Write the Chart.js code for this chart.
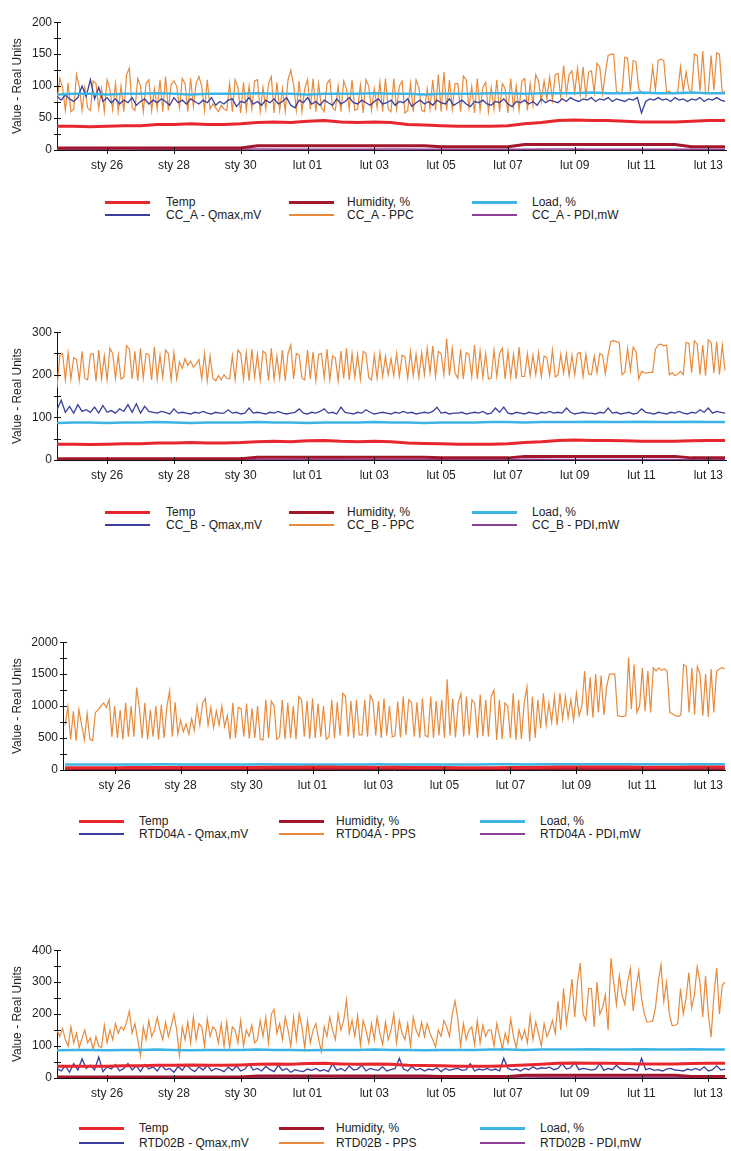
<!DOCTYPE html>
<html>
<head>
<meta charset="utf-8">
<script src="https://cdn.jsdelivr.net/npm/chart.js@4.4.1/dist/chart.umd.min.js"></script>
<style>
  body { margin: 0; background: #fff; width: 731px; height: 1151px; overflow: hidden; position: relative; }
  canvas { position: absolute; left: 0; }
  .leg-line { position: absolute; }
  .leg-text { position: absolute; font: 12px 'Liberation Sans', Arial, sans-serif; color: #222; line-height: 14px; white-space: nowrap; }
</style>
</head>
<body>
<script>
// --- Data (x = days after 24 Jan 00:00) ---
const X0 = 0.5;
const tickDays = [2, 4, 6, 8, 10, 12, 14, 16, 18, 20];
const tickLabels = ['sty 26', 'sty 28', 'sty 30', 'lut 01', 'lut 03', 'lut 05', 'lut 07', 'lut 09', 'lut 11', 'lut 13'];

// shared, 12h step
const tempVals = [37, 37, 36.5, 37, 38, 38, 40, 40, 41, 40, 40, 41, 43, 44, 43, 45, 46, 44, 43, 44, 43,
  40, 39, 38, 37, 37, 37, 38, 41, 43, 46, 47, 46, 46, 45, 44, 44, 44, 45, 46, 46];
const humidityVals = [3, 3, 3, 3, 3, 3, 3, 3, 3, 3, 3, 3,
  6.5, 6.5, 6.5, 6.5, 6.5, 6.5, 6.5, 6.5, 6.5, 6.5, 6.5,
  5, 5, 5, 5, 5,
  8.5, 8.5, 8.5, 8.5, 8.5, 8.5, 8.5, 8.5, 8.5, 8.5,
  5, 5, 5];
const loadVals = [87, 88, 88, 87, 88, 88, 89, 88, 87, 88, 88, 88, 89, 88, 88, 87, 88, 88, 88, 89, 88,
  88, 87, 88, 88, 88, 89, 89, 88, 89, 89, 89, 90, 89, 89, 90, 89, 89, 90, 89, 89];

// panel 1 (CC_A): Qmax 3h step, PPC 2h step
const qmaxA = [
  84, 78, 86, 80, 76, 82, 100, 84,
  110, 80, 98, 76, 82, 74, 80, 72,
  78, 74, 82, 70, 76, 80, 72, 78,
  74, 80, 76, 70, 82, 74, 78, 72,
  80, 76, 72, 78, 74, 82, 70, 76,
  72, 78, 80, 68, 76, 74, 82, 72,
  76, 70, 78, 74, 80, 72, 76, 82,
  70, 66, 78, 74, 82, 72, 76, 70,
  78, 74, 70, 80, 72, 76, 82, 74,
  72, 78, 74, 70, 76, 80, 72, 74,
  78, 70, 76, 74, 80, 68, 74, 78,
  72, 76, 70, 78, 74, 72, 80, 70,
  74, 78, 72, 68, 76, 74, 78, 72,
  70, 76, 74, 80, 72, 68, 76, 74,
  78, 72, 76, 70, 80, 74, 78, 76,
  74, 80, 76, 82, 78, 76, 80, 78,
  82, 76, 80, 78, 82, 76, 80, 78,
  76, 80, 78, 82, 58, 76, 80, 78,
  82, 78, 80, 76, 82, 78, 80, 76,
  80, 78, 82, 76, 80, 78, 82, 78,
  76];
const ppcA = [
  75, 112, 98, 62, 105, 60, 64, 118, 100, 62, 98, 66,
  62, 108, 104, 65, 96, 60, 110, 95, 63, 104, 60, 100,
  60, 118, 128, 66, 62, 112, 100, 60, 104, 110, 62, 96,
  64, 110, 60, 115, 62, 102, 108, 100, 66, 112, 104, 60,
  112, 68, 105, 115, 100, 62, 110, 64, 72, 66, 60, 70,
  64, 62, 104, 60, 110, 98, 58, 106, 62, 100, 64, 108,
  110, 60, 98, 64, 104, 115, 58, 106, 62, 96, 60, 110,
  125, 102, 62, 108, 60, 96, 110, 64, 112, 60, 104, 66,
  60, 104, 110, 66, 62, 100, 60, 108, 96, 64, 110, 62,
  64, 102, 58, 110, 100, 62, 96, 66, 106, 60, 112, 64,
  60, 112, 64, 100, 108, 58, 62, 104, 60, 110, 98, 62,
  60, 96, 64, 110, 62, 118, 60, 122, 62, 110, 64, 104,
  104, 60, 116, 110, 66, 100, 58, 112, 62, 98, 106, 60,
  98, 64, 110, 60, 104, 96, 58, 112, 66, 100, 62, 108,
  112, 62, 104, 70, 118, 108, 76, 108, 80, 114, 78, 118,
  120, 82, 132, 88, 118, 124, 90, 128, 86, 130, 84, 122,
  124, 90, 136, 130, 88, 120, 148, 150, 150, 92, 90, 90,
  145, 144, 92, 140, 138, 96, 90, 88, 89, 90, 130, 94,
  140, 142, 140, 90, 92, 88, 90, 91, 130, 92, 122, 95,
  90, 150, 148, 92, 155, 88, 90, 148, 94, 152, 150, 90,
  92];
const pdiA = [1, 1, 1.5, 1, 1, 1, 1.5, 1, 1, 1, 1.5, 1, 1, 1, 1, 1.5, 1, 1, 1, 1, 1];

// panel 2 (CC_B)
const qmaxB = [
  118, 140, 112, 126, 110, 130, 114, 118,
  112, 124, 110, 128, 112, 116, 110, 120,
  114, 130, 112, 132, 110, 126, 114, 112,
  110, 114, 112, 108, 120, 110, 112, 110,
  108, 112, 110, 114, 110, 108, 112, 110,
  110, 118, 110, 112, 108, 110, 122, 110,
  112, 110, 108, 112, 110, 114, 110, 108,
  110, 112, 120, 110, 108, 112, 110, 114,
  120, 110, 112, 108, 124, 112, 110, 108,
  112, 110, 118, 112, 108, 110, 112, 110,
  108, 112, 110, 114, 110, 112, 108, 110,
  112, 110, 114, 124, 110, 112, 108, 110,
  110, 112, 108, 110, 112, 110, 114, 108,
  110, 122, 112, 124, 110, 108, 112, 110,
  108, 112, 110, 108, 112, 110, 114, 110,
  112, 110, 122, 112, 108, 110, 112, 110,
  110, 108, 112, 110, 122, 110, 112, 108,
  110, 112, 108, 110, 120, 112, 110, 108,
  112, 110, 108, 112, 110, 114, 110, 108,
  112, 110, 118, 112, 122, 110, 114, 112,
  110];
const ppcB = [
  170, 245, 250, 188, 252, 190, 240, 236, 186, 255, 192, 188,
  248, 250, 185, 258, 190, 244, 188, 262, 250, 192, 246, 190,
  194, 268, 260, 190, 255, 186, 262, 192, 250, 248, 188, 265,
  190, 246, 194, 258, 250, 188, 252, 190, 230, 215, 238, 222,
  232, 218, 225, 236, 190, 250, 186, 244, 192, 186, 198, 188,
  200, 192, 190, 245, 188, 258, 250, 190, 252, 186, 260, 194,
  248, 188, 256, 250, 186, 262, 190, 244, 192, 258, 186, 250,
  270, 190, 250, 246, 192, 188, 258, 190, 254, 186, 248, 250,
  192, 260, 188, 244, 240, 186, 256, 192, 262, 188, 250, 194,
  248, 190, 255, 250, 194, 188, 246, 192, 252, 196, 244, 200,
  238, 198, 250, 196, 246, 242, 192, 255, 198, 248, 194, 252,
  200, 262, 204, 268, 196, 255, 250, 200, 285, 198, 262, 204,
  192, 260, 190, 252, 248, 196, 270, 190, 256, 194, 250, 190,
  192, 258, 196, 250, 262, 190, 254, 194, 248, 190, 265, 196,
  196, 250, 198, 246, 200, 252, 196, 244, 240, 198, 258, 195,
  200, 248, 204, 250, 198, 246, 200, 250, 252, 196, 248, 202,
  200, 244, 204, 250, 246, 202, 248, 278, 280, 278, 276, 200,
  206, 262, 210, 265, 255, 190, 208, 205, 204, 206, 205, 260,
  270, 272, 268, 270, 200, 205, 198, 202, 208, 200, 276, 274,
  205, 280, 272, 200, 270, 198, 282, 276, 204, 278, 200, 270,
  210];
const pdiB = [1, 1, 1, 1.5, 1, 1, 1, 1, 1.5, 1, 1, 1, 1, 1, 1.5, 1, 1, 1, 1, 1, 1];

// panel 3 (RTD04A)
const qmaxC = [28, 30, 26, 32, 29, 27, 31, 30, 28, 26, 30, 32, 29, 27, 30, 28, 31, 29, 30, 28, 30];
const ppsC = [
  700, 990, 480, 920, 460, 950, 700, 470, 880, 480, 460, 900,
  940, 1000, 1050, 980, 1100, 520, 1000, 500, 940, 480, 1050, 520,
  1000, 520, 1290, 980, 500, 1050, 480, 940, 520, 1000, 480, 1020,
  500, 980, 1240, 520, 1060, 560, 780, 600, 720, 560, 800, 620,
  1000, 700, 1050, 1120, 700, 980, 660, 920, 700, 1000, 680, 850,
  480, 1050, 500, 980, 960, 520, 1040, 490, 960, 500, 1000, 480,
  470, 1100, 500, 1080, 1000, 480, 520, 1100, 480, 1050, 500, 1000,
  480, 1150, 1100, 520, 1080, 490, 1120, 500, 1040, 520, 1000, 480,
  520, 1100, 500, 1060, 540, 1200, 1150, 520, 1080, 500, 1100, 550,
  550, 1100, 520, 1170, 1080, 540, 1080, 500, 1120, 540, 1000, 520,
  530, 1070, 510, 1150, 550, 1100, 1060, 520, 1060, 500, 1120, 540,
  520, 1150, 500, 1080, 540, 1100, 500, 1420, 540, 1120, 510, 1050,
  1195, 520, 1150, 540, 1100, 1050, 500, 1180, 530, 1100, 520, 1150,
  1250, 470, 1100, 480, 1050, 1000, 500, 1200, 470, 1100, 480, 1050,
  1300, 450, 1150, 500, 1100, 650, 1200, 700, 1050, 750, 1150, 700,
  1200, 800, 1150, 820, 1100, 780, 1200, 850, 1000, 1550, 850, 1450,
  820, 1500, 900, 1480, 860, 1300, 1500, 1500, 1500, 850, 840, 835,
  850, 1760, 950, 1650, 900, 1000, 1600, 920, 1550, 900, 1600, 1550,
  1600, 1560, 1580, 1550, 900, 880, 850, 840, 860, 1650, 1620, 900,
  1600, 870, 1620, 1500, 850, 1500, 830, 1580, 900, 1550, 1580, 1600,
  1580];
const pdiC = [4, 4, 5, 4, 4, 5, 4, 4, 4, 5, 4, 4, 5, 4, 4, 4, 5, 4, 4, 4, 4];

// panel 4 (RTD02B)
const qmaxD = [
  30, 22, 38, 18, 45, 25, 60, 30,
  40, 25, 66, 20, 35, 28, 42, 22,
  30, 45, 25, 38, 20, 42, 28, 35,
  22, 40, 26, 30, 18, 36, 24, 42,
  28, 20, 35, 25, 40, 22, 30, 26,
  20, 34, 24, 38, 22, 28, 44, 25,
  30, 22, 36, 26, 20, 40, 24, 30,
  18, 26, 22, 20, 28, 24, 30, 22,
  26, 20, 45, 24, 30, 22, 38, 25,
  28, 40, 22, 30, 26, 24, 35, 22,
  26, 30, 62, 28, 22, 36, 25, 30,
  22, 28, 25, 32, 20, 30, 24, 28,
  30, 24, 26, 45, 22, 28, 25, 30,
  24, 28, 22, 62, 30, 25, 28, 22,
  30, 26, 35, 28, 32, 30, 34, 26,
  30, 45, 28, 32, 48, 26, 30, 28,
  25, 28, 45, 24, 30, 26, 40, 28,
  24, 30, 28, 22, 62, 26, 30, 24,
  26, 22, 28, 30, 25, 24, 22, 28,
  25, 30, 24, 35, 22, 26, 38, 25,
  28];
const ppsD = [
  150, 130, 155, 120, 100, 160, 110, 140, 95, 125, 150, 110,
  125, 90, 130, 100, 95, 165, 110, 150, 120, 170, 140, 160,
  150, 175, 210, 140, 170, 120, 70, 160, 120, 180, 130, 150,
  190, 150, 120, 175, 130, 160, 200, 150, 70, 160, 120, 175,
  110, 190, 120, 170, 160, 100, 185, 130, 160, 150, 110, 170,
  100, 175, 95, 160, 150, 110, 180, 100, 150, 130, 165, 110,
  120, 180, 130, 190, 110, 200, 215, 140, 170, 120, 190, 150,
  100, 190, 120, 200, 160, 95, 180, 110, 150, 170, 120, 82,
  160, 130, 190, 150, 120, 200, 150, 180, 244, 140, 180, 130,
  195, 103, 180, 150, 110, 170, 120, 190, 140, 105, 175, 120,
  150, 200, 110, 180, 140, 120, 170, 100, 190, 150, 130, 175,
  130, 170, 140, 120, 97, 150, 130, 180, 160, 130, 200, 241,
  185, 100, 170, 120, 150, 160, 105, 180, 110, 165, 130, 150,
  150, 100, 170, 130, 90, 140, 110, 185, 130, 95, 150, 120,
  150, 110, 195, 120, 175, 140, 100, 170, 130, 150, 180, 140,
  240, 150, 280, 170, 230, 310, 190, 300, 360, 200, 180, 280,
  280, 160, 300, 200, 220, 260, 150, 375, 300, 230, 320, 260,
  230, 300, 343, 210, 280, 335, 250, 200, 175, 176, 178, 220,
  300, 354, 240, 300, 200, 164, 165, 170, 280, 200, 250, 330,
  220, 260, 348, 300, 190, 320, 200, 128, 260, 345, 200, 290,
  300];
const pdiD = [2, 2, 2, 3, 2, 2, 2, 2, 3, 2, 2, 2, 2, 2, 3, 2, 2, 2, 2, 2, 2];

// --- Styles ---
const FONT = "'Liberation Sans', Arial, sans-serif";
Chart.defaults.font.family = FONT;
Chart.defaults.font.size = 12;
Chart.defaults.color = '#222';

const STYLE = {
  temp: { color: '#e8262e', width: 3, legendWidth: 3 },
  hum:  { color: '#a3172d', width: 3, legendWidth: 3 },
  load: { color: '#3cb5e5', width: 2.5, legendWidth: 3 },
  qmax: { color: '#3a3f9e', width: 1.3, legendWidth: 2 },
  pp:   { color: '#e88a3c', width: 1.2, legendWidth: 2 },
  pdi:  { color: '#8e3f98', width: 1.5, legendWidth: 2 }
};

const LEG_A = { lines: [105, 289, 472], texts: [166, 347, 532] };
const LEG_B = { lines: [79, 279, 480], texts: [139, 336, 540] };

const panels = [
  { top: 20, bottom: 150, left: 57, xMin: 0.5, yMax: 200, yStep: 25, labelStep: 50, legY: [202, 215], leg: LEG_A,
    series: [['Temp', 'temp', tempVals, 0.5], ['Humidity, %', 'hum', humidityVals, 0.5], ['Load, %', 'load', loadVals, 0.5],
             ['CC_A - Qmax,mV', 'qmax', qmaxA, 1 / 8], ['CC_A - PPC', 'pp', ppcA, 1 / 12], ['CC_A - PDI,mW', 'pdi', pdiA, 1]] },
  { top: 330, bottom: 460, left: 57, xMin: 0.5, yMax: 300, yStep: 50, labelStep: 100, legY: [512, 525], leg: LEG_A,
    series: [['Temp', 'temp', tempVals, 0.5], ['Humidity, %', 'hum', humidityVals, 0.5], ['Load, %', 'load', loadVals, 0.5],
             ['CC_B - Qmax,mV', 'qmax', qmaxB, 1 / 8], ['CC_B - PPC', 'pp', ppcB, 1 / 12], ['CC_B - PDI,mW', 'pdi', pdiB, 1]] },
  { top: 640, bottom: 770, left: 63, xMin: 0.435, yMax: 2000, yStep: 250, labelStep: 500, legY: [821, 834], leg: LEG_B,
    series: [['Temp', 'temp', tempVals, 0.5], ['Humidity, %', 'hum', humidityVals, 0.5], ['Load, %', 'load', loadVals, 0.5],
             ['RTD04A - Qmax,mV', 'qmax', qmaxC, 1], ['RTD04A - PPS', 'pp', ppsC, 1 / 12], ['RTD04A - PDI,mW', 'pdi', pdiC, 1]] },
  { top: 948, bottom: 1078, left: 57, xMin: 0.5, yMax: 400, yStep: 50, labelStep: 100, legY: [1128, 1143], leg: LEG_B,
    series: [['Temp', 'temp', tempVals, 0.5], ['Humidity, %', 'hum', humidityVals, 0.5], ['Load, %', 'load', loadVals, 0.5],
             ['RTD02B - Qmax,mV', 'qmax', qmaxD, 1 / 8], ['RTD02B - PPS', 'pp', ppsD, 1 / 12], ['RTD02B - PDI,mW', 'pdi', pdiD, 1]] }
];

const toPoints = (vals, step) => vals.map((v, i) => ({ x: X0 + i * step, y: v }));

// tick marks crossing the axes
const axisTicks = {
  id: 'axisTicks',
  afterDraw(chart) {
    const { ctx, chartArea, scales } = chart;
    ctx.save();
    ctx.strokeStyle = '#111';
    ctx.lineWidth = 1;
    ctx.beginPath();
    scales.y.ticks.forEach(t => {
      const y = Math.round(scales.y.getPixelForValue(t.value)) + 0.5;
      ctx.moveTo(chartArea.left - 3, y);
      ctx.lineTo(chartArea.left + 4, y);
    });
    scales.x.ticks.forEach(t => {
      const x = Math.round(scales.x.getPixelForValue(t.value)) + 0.5;
      ctx.moveTo(x, chartArea.bottom - 3);
      ctx.lineTo(x, chartArea.bottom + 4);
    });
    ctx.stroke();
    ctx.restore();
  }
};

const X_AXIS_H = 30, PAD_TOP = 10;

panels.forEach(p => {
  const canvas = document.createElement('canvas');
  const h = (p.bottom - p.top) + PAD_TOP + X_AXIS_H;
  canvas.width = 731;
  canvas.height = h;
  canvas.style.top = (p.top - PAD_TOP) + 'px';
  canvas.style.width = '731px';
  canvas.style.height = h + 'px';
  document.body.appendChild(canvas);

  new Chart(canvas.getContext('2d'), {
    type: 'line',
    data: {
      datasets: p.series.map(([label, key, vals, step]) => ({
        label: label,
        data: toPoints(vals, step),
        borderColor: STYLE[key].color,
        borderWidth: STYLE[key].width,
        pointRadius: 0,
        tension: 0,
        fill: false
      }))
    },
    options: {
      responsive: false,
      animation: false,
      devicePixelRatio: 1,
      layout: { padding: { top: PAD_TOP, right: 0, bottom: 0, left: 0 }, autoPadding: false },
      plugins: { legend: { display: false }, tooltip: { enabled: false } },
      scales: {
        x: {
          type: 'linear',
          min: p.xMin,
          max: 20.535,
          afterBuildTicks: (scale) => { scale.ticks = tickDays.map(v => ({ value: v })); },
          afterFit: (scale) => { scale.height = X_AXIS_H; },
          ticks: {
            autoSkip: false,
            maxRotation: 0,
            padding: 8,
            callback: (v) => tickLabels[tickDays.indexOf(v)] ?? ''
          },
          grid: { display: true, drawOnChartArea: false, drawTicks: false },
          border: { display: true, color: '#111', width: 1 }
        },
        y: {
          min: 0,
          max: p.yMax,
          afterFit: (scale) => { scale.width = p.left; },
          ticks: {
            stepSize: p.yStep,
            autoSkip: false,
            padding: 5,
            callback: (v) => (v % p.labelStep === 0 ? String(v) : '')
          },
          grid: { display: true, drawOnChartArea: false, drawTicks: false },
          border: { display: true, color: '#111', width: 1 },
          title: { display: true, text: 'Value - Real Units', font: { size: 12 }, padding: { top: 10, bottom: 0 } }
        }
      }
    },
    plugins: [axisTicks]
  });

  // legend: 3 columns, 2 rows
  p.series.forEach(([label, key], i) => {
    const row = Math.floor(i / 3), col = i % 3;
    const y = p.legY[row];
    const w = STYLE[key].legendWidth;
    const line = document.createElement('div');
    line.className = 'leg-line';
    line.style.left = p.leg.lines[col] + 'px';
    line.style.top = (y - w / 2) + 'px';
    line.style.width = '45px';
    line.style.height = w + 'px';
    line.style.background = STYLE[key].color;
    document.body.appendChild(line);
    const text = document.createElement('div');
    text.className = 'leg-text';
    text.style.left = p.leg.texts[col] + 'px';
    text.style.top = (y - 7) + 'px';
    text.textContent = label;
    document.body.appendChild(text);
  });
});
</script>
</body>
</html>
